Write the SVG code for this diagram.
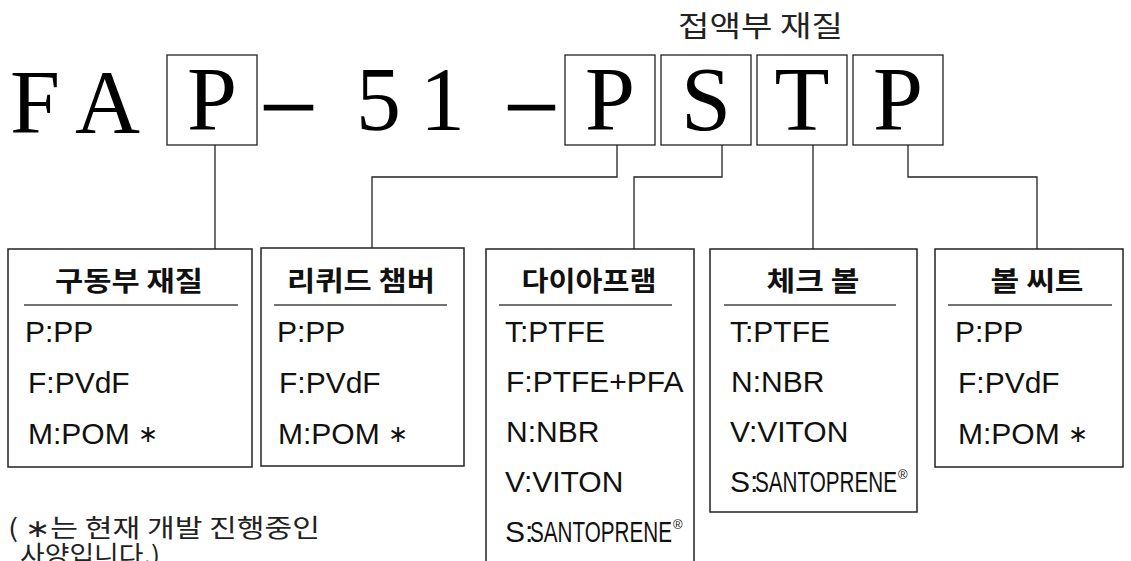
<svg xmlns="http://www.w3.org/2000/svg" width="1131" height="561" viewBox="0 0 1131 561">
<style>
.big{font-family:"Liberation Serif","Times New Roman",serif;font-size:90px;fill:#000}
.dash{font-family:"Liberation Serif","Times New Roman",serif;font-size:90px;fill:#000;stroke:#000;stroke-width:1.2}
.cbox{fill:#fff;stroke:#222;stroke-width:1.3}
.nbox{fill:#fff;stroke:#222;stroke-width:1.5}
.ttl{font-family:"Noto Sans CJK KR","Noto Sans",sans-serif;font-weight:bold;font-size:27px;fill:#111;text-anchor:middle}
.sep{stroke:#444;stroke-width:1.3}
.itm{font-family:"Liberation Sans",Arial,sans-serif;font-size:30px;fill:#111}
.reg{font-family:"Liberation Sans",Arial,sans-serif;font-size:13px;fill:#111}
.ast{font-family:"DejaVu Sans",sans-serif;font-size:24px;fill:#111}
.kr{font-family:"Noto Sans CJK KR",sans-serif;fill:#222}
.conn{fill:none;stroke:#222;stroke-width:1.3}
</style>

<g id="code">
  <text class="big" x="10" y="133">F</text>
  <text class="big" x="75" y="133">A</text>
  <rect class="cbox" x="167" y="55" width="90" height="90"/>
  <text class="big" x="212" y="130" text-anchor="middle">P</text>
  <text class="dash" x="265" y="129" textLength="47" lengthAdjust="spacingAndGlyphs">–</text>
  <text class="big" x="356" y="130">5</text>
  <text class="big" x="420" y="130">1</text>
  <text class="dash" x="509" y="129" textLength="45" lengthAdjust="spacingAndGlyphs">–</text>
  <rect class="cbox" x="565" y="55" width="90" height="90"/>
  <text class="big" x="610" y="130" text-anchor="middle">P</text>
  <rect class="cbox" x="661" y="55" width="90" height="90"/>
  <text class="big" x="706" y="130" text-anchor="middle">S</text>
  <rect class="cbox" x="757" y="55" width="90" height="90"/>
  <text class="big" x="802" y="130" text-anchor="middle">T</text>
  <rect class="cbox" x="853" y="55" width="90" height="90"/>
  <text class="big" x="898" y="130" text-anchor="middle">P</text>
  <text class="kr" x="678" y="37" font-size="29" textLength="165" lengthAdjust="spacingAndGlyphs">접액부 재질</text>
</g>

<g id="connectors">
  <path class="conn" d="M215 145 V249"/>
  <path class="conn" d="M617 145 V177 H372 V248"/>
  <path class="conn" d="M722 145 V177 H634 V249"/>
  <path class="conn" d="M813 145 V249"/>
  <path class="conn" d="M908 145 V177 H1037 V249"/>
</g>

<g id="drive">
  <rect class="nbox" x="8" y="249" width="244" height="218"/>
  <text class="ttl" x="129" y="291" textLength="148" lengthAdjust="spacingAndGlyphs">구동부 재질</text>
  <line class="sep" x1="24" y1="305" x2="238" y2="305"/>
  <text class="itm" x="25" y="342">P:PP</text>
  <text class="itm" x="28" y="393">F:PVdF</text>
  <text class="itm" x="28" y="444">M:POM <tspan class="ast" dy="-2">∗</tspan></text>
</g>

<g id="liquid">
  <rect class="nbox" x="261" y="248" width="203" height="218"/>
  <text class="ttl" x="361" y="291" textLength="148" lengthAdjust="spacingAndGlyphs">리퀴드 챔버</text>
  <line class="sep" x1="274" y1="305" x2="447" y2="305"/>
  <text class="itm" x="277" y="342">P:PP</text>
  <text class="itm" x="279" y="393">F:PVdF</text>
  <text class="itm" x="278" y="444">M:POM <tspan class="ast" dy="-2">∗</tspan></text>
</g>

<g id="diaphragm">
  <rect class="nbox" x="486" y="249" width="208" height="320"/>
  <text class="ttl" x="589" y="291" textLength="135" lengthAdjust="spacingAndGlyphs">다이아프램</text>
  <line class="sep" x1="499" y1="305" x2="672" y2="305"/>
  <text class="itm" x="505" y="342">T:PTFE</text>
  <text class="itm" x="506" y="392">F:PTFE+PFA</text>
  <text class="itm" x="506" y="442">N:NBR</text>
  <text class="itm" x="505" y="492">V:VITON</text>
  <text class="itm" x="505" y="542">S:</text>
  <text class="itm" x="530" y="542" font-size="28" textLength="142" lengthAdjust="spacingAndGlyphs">SANTOPRENE</text>
  <text class="reg" x="673" y="529">®</text>
</g>

<g id="checkball">
  <rect class="nbox" x="710" y="249" width="207" height="263"/>
  <text class="ttl" x="813" y="291" textLength="93" lengthAdjust="spacingAndGlyphs">체크 볼</text>
  <line class="sep" x1="724" y1="305" x2="896" y2="305"/>
  <text class="itm" x="730" y="342">T:PTFE</text>
  <text class="itm" x="731" y="392">N:NBR</text>
  <text class="itm" x="730" y="442">V:VITON</text>
  <text class="itm" x="730" y="492">S:</text>
  <text class="itm" x="755" y="492" font-size="28" textLength="142" lengthAdjust="spacingAndGlyphs">SANTOPRENE</text>
  <text class="reg" x="898" y="479">®</text>
</g>

<g id="ballseat">
  <rect class="nbox" x="935" y="249" width="188" height="218"/>
  <text class="ttl" x="1037" y="291" textLength="93" lengthAdjust="spacingAndGlyphs">볼 씨트</text>
  <line class="sep" x1="948" y1="305" x2="1112" y2="305"/>
  <text class="itm" x="955" y="342">P:PP</text>
  <text class="itm" x="958" y="393">F:PVdF</text>
  <text class="itm" x="958" y="444">M:POM <tspan class="ast" dy="-2">∗</tspan></text>
</g>

<g id="note">
  <text class="kr" x="8" y="537" font-size="25" textLength="312" lengthAdjust="spacingAndGlyphs">( ∗는 현재 개발 진행중인</text>
  <text class="kr" x="20" y="564" font-size="25" textLength="140" lengthAdjust="spacingAndGlyphs">사양입니다.)</text>
</g>
</svg>
